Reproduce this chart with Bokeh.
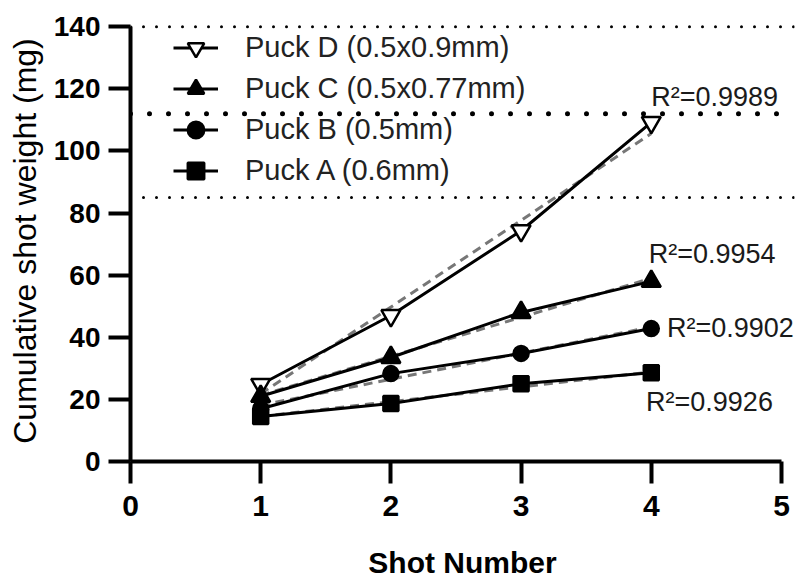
from bokeh.plotting import figure
from bokeh.models import (Range1d, FixedTicker, Legend, LegendItem, Span,
                          ColumnDataSource, LabelSet)
from bokeh.embed import file_html
from bokeh.resources import INLINE
from bokeh.core.properties import value

# ---- data ----
shots = [1, 2, 3, 4]
puck_d = [24.8, 47.0, 74.3, 109.2]
puck_c = [21.0, 33.5, 48.0, 58.0]
puck_b = [17.0, 28.3, 34.8, 42.8]
puck_a = [14.5, 18.7, 25.0, 28.6]

# linear-fit trend lines (endpoints at shot 1 and shot 4)
trend_x = [1, 4]
trend_d = [21.8, 105.6]
trend_c = [21.3, 59.0]
trend_b = [18.1, 43.3]
trend_a = [14.5, 28.8]

labels = ["Puck D (0.5x0.9mm)", "Puck C (0.5x0.77mm)", "Puck B (0.5mm)", "Puck A (0.6mm)"]

r2_text = ["R\u00b2=0.9989", "R\u00b2=0.9954", "R\u00b2=0.9902", "R\u00b2=0.9926"]
r2_x = [4.0, 3.98, 4.12, 3.96]
r2_y = [114.6, 64.0, 40.0, 16.4]

ref_levels_thin = [140, 85]
ref_level_thick = [112]

x_ticks = [0, 1, 2, 3, 4, 5]
y_ticks = [0, 20, 40, 60, 80, 100, 120, 140]

FONT = "Liberation Sans"

p = figure(width=798, height=583, output_backend="svg", toolbar_location=None,
           x_range=Range1d(0, 5.1), y_range=Range1d(0, 142),
           min_border_left=130, min_border_right=4, min_border_top=20,
           min_border_bottom=122)
p.outline_line_color = None
p.grid.visible = False
p.background_fill_color = "white"

# reference dotted lines
for lv in ref_levels_thin:
    p.add_layout(Span(location=lv, dimension="width", line_color="black",
                      line_width=3, line_dash="0 13", line_cap="round"))
for lv in ref_level_thick:
    p.add_layout(Span(location=lv, dimension="width", line_color="black",
                      line_width=5, line_dash="0 19", line_cap="round"))

# trend lines
for t in [trend_d, trend_c, trend_b, trend_a]:
    p.line(trend_x, t, line_color="#777777", line_width=3, line_dash="9 6")

series = [
    (puck_d, "inverted_triangle", "white", 19),
    (puck_c, "triangle", "black", 19),
    (puck_b, "circle", "black", 15),
    (puck_a, "square", "black", 15),
]
items = []
for (ys, mk, fill, sz), lab in zip(series, labels):
    ln = p.line(shots, ys, line_color="black", line_width=3)
    sc = p.scatter(shots, ys, marker=mk, size=sz, fill_color=fill,
                   line_color="black", line_width=2.5)
    items.append(LegendItem(label=lab, renderers=[ln, sc]))

legend = Legend(items=items, location=(43, 270), orientation="vertical",
                glyph_width=45, glyph_height=41, label_height=41, spacing=0,
                padding=0, margin=0, label_standoff=27,
                label_text_font=FONT, label_text_font_size="29px",
                label_text_color="#222222",
                background_fill_alpha=0, border_line_alpha=0)
p.add_layout(legend, "center")

src = ColumnDataSource(dict(x=r2_x, y=r2_y, t=r2_text))
p.add_layout(LabelSet(x="x", y="y", text="t", source=src,
                      text_font=value(FONT), text_font_size="27px",
                      text_color="#1a1a1a", text_baseline="alphabetic",
                      text_align="left"))

for ax in [p.xaxis[0], p.yaxis[0]]:
    ax.axis_line_width = 4
    ax.axis_line_color = "black"
    ax.major_tick_line_width = 4
    ax.major_tick_line_color = "black"
    ax.major_tick_out = 22
    ax.major_tick_in = 0
    ax.minor_tick_line_color = None
    ax.major_label_text_font = FONT
    ax.major_label_text_font_style = "bold"
    ax.major_label_text_color = "black"
    ax.axis_label_text_font = FONT
    ax.axis_label_text_color = "black"

p.xaxis.ticker = FixedTicker(ticks=x_ticks)
p.yaxis.ticker = FixedTicker(ticks=y_ticks)
p.xaxis.bounds = (0, 5)
p.yaxis.bounds = (0, 140)

p.xaxis.major_label_text_font_size = "30px"
p.yaxis.major_label_text_font_size = "28px"
p.xaxis.major_label_standoff = 12
p.yaxis.major_label_standoff = 8

p.xaxis.axis_label = "Shot Number"
p.yaxis.axis_label = "Cumulative shot weight (mg)"
p.xaxis.axis_label_text_font_style = "bold"
p.yaxis.axis_label_text_font_style = "normal"
p.xaxis.axis_label_text_font_size = "30px"
p.yaxis.axis_label_text_font_size = "32px"
p.xaxis.axis_label_standoff = 27
p.yaxis.axis_label_standoff = 8

open("out.html", "w").write(file_html(p, INLINE))
